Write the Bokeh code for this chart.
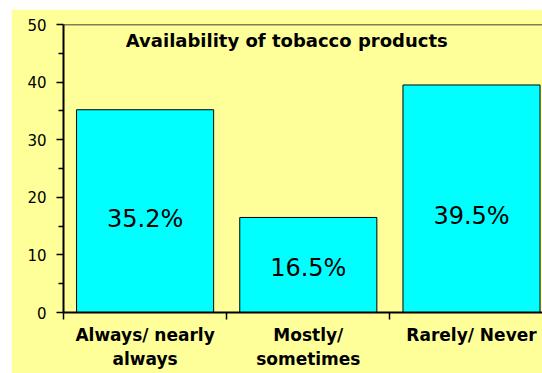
from bokeh.plotting import figure
from bokeh.models import FixedTicker, Range1d, Span, ColumnDataSource
from bokeh.core.properties import value
from bokeh.embed import file_html
from bokeh.resources import INLINE

categories = ["Always/ nearly\nalways", "Mostly/\nsometimes", "Rarely/ Never"]
percent = [35.2, 16.5, 39.5]
labels = ["35.2%", "16.5%", "39.5%"]
title_text = "Availability of tobacco products"
y_ticks = [0, 10, 20, 30, 40, 50]

# label placement (layout, not data)
label_y = [16.15, 7.64, 16.67]

YELLOW = "#FFFF99"
CYAN = "#00FFFF"
FONT = "DejaVu Sans"

centers = [i + 0.5 for i in range(len(categories))]

p = figure(width=531, height=364, output_backend="svg", toolbar_location=None,
           x_range=Range1d(0, 2.935), y_range=Range1d(0, 50),
           min_border_left=52, min_border_right=0, min_border_top=15, min_border_bottom=61)
p.margin = (9, 0, 0, 11)
p.background_fill_color = YELLOW
p.border_fill_color = YELLOW
p.outline_line_color = None
p.grid.visible = False

src = ColumnDataSource(dict(x=centers, top=percent))
p.vbar(x="x", top="top", width=0.84, bottom=0, source=src,
       fill_color=CYAN, line_color="black", line_width=1)

lsrc = ColumnDataSource(dict(x=centers, y=label_y, t=labels))
p.text(x="x", y="y", text="t", source=lsrc, text_align="center",
       text_baseline="alphabetic", text_font=value(FONT),
       text_font_size="24px", text_color="black")

p.text(x=[1.368], y=[47.2], text=[title_text], text_align="center",
       text_baseline="alphabetic", text_font=value(FONT), text_font_style="bold",
       text_font_size="18px", text_color="black")

p.add_layout(Span(location=50, dimension="width", line_color="black", line_width=1.5))

# y axis
ya = p.yaxis[0]
ya.ticker = FixedTicker(ticks=y_ticks, minor_ticks=[5, 15, 25, 35, 45])
ya.axis_line_width = 2
ya.axis_line_color = "black"
ya.major_tick_in = 0
ya.major_tick_out = 7
ya.major_tick_line_width = 1.5
ya.minor_tick_in = 0
ya.minor_tick_out = 5
ya.minor_tick_line_width = 1.5
ya.major_label_text_font = FONT
ya.major_label_text_font_size = "15px"
ya.major_label_text_color = "black"
ya.major_label_standoff = 10

# x axis
xa = p.xaxis[0]
xa.ticker = FixedTicker(ticks=centers, minor_ticks=[0, 1, 2, 3])
xa.major_label_overrides = {c: lab for c, lab in zip(centers, categories)}
xa.axis_line_width = 2
xa.axis_line_color = "black"
xa.major_tick_line_color = None
xa.major_tick_in = 0
xa.major_tick_out = 7
xa.minor_tick_in = 0
xa.minor_tick_out = 7
xa.minor_tick_line_width = 1.5
xa.major_label_text_font = FONT
xa.major_label_text_font_style = "bold"
xa.major_label_text_font_size = "17px"
xa.major_label_text_color = "black"
xa.major_label_standoff = 5

open("out.html", "w").write(file_html(p, INLINE))
